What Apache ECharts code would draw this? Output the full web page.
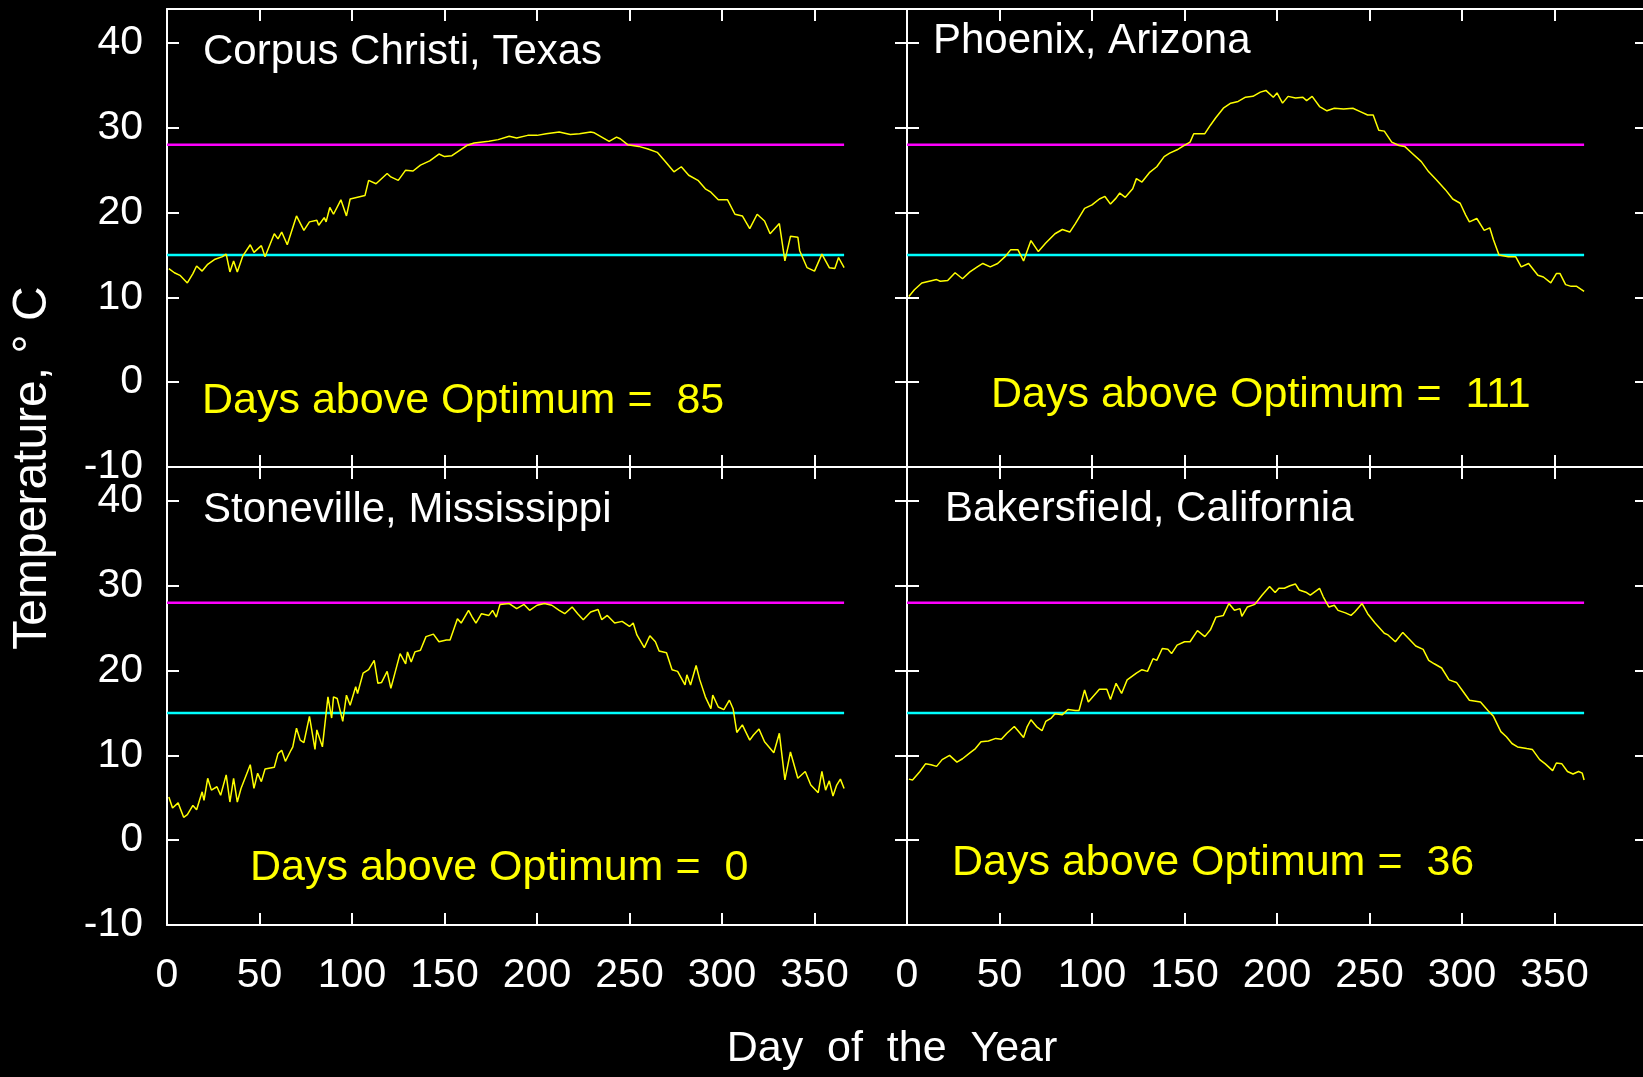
<!DOCTYPE html>
<html>
<head>
<meta charset="utf-8">
<script src="https://cdn.jsdelivr.net/npm/echarts@6/dist/echarts.min.js"></script>
<style>
html,body{margin:0;padding:0;background:#000;overflow:hidden;}
#c{width:1660px;height:1077px;}
</style>
</head>
<body>
<div id="c"></div>
<script>
// ---------- data ----------
const stationNames = ['Corpus Christi, Texas', 'Phoenix, Arizona', 'Stoneville, Mississippi', 'Bakersfield, California'];
const daysAboveOptimum = [85, 111, 0, 36];
const optimumTemp = 28;
const baseTemp = 15;
const refLineDays = [0, 366];
const xTickLabels = [0, 50, 100, 150, 200, 250, 300, 350];
const yTickLabels = [-10, 0, 10, 20, 30, 40];

const ccDays = [1,2,4,7,11,14,16,19,22,26,30,32,34,36,38,41,45,47,51,53,58,60,62,65,70,74,77,81,82,85,86,88,90,94,97,99,103,107,109,113,119,121,125,129,133,137,142,147,150,154,158,162,166,174,179,185,189,195,200,205,212,218,223,229,231,235,239,243,245,249,255,260,265,269,274,278,282,287,291,294,298,303,307,311,315,319,323,326,331,334,337,341,342,346,350,354,358,361,363,366];
const ccTemps = [13.4,13.5,12.9,12.6,11.7,12.8,13.7,13.1,13.9,14.5,14.8,15.1,13.0,14.3,13.0,14.9,16.2,15.3,16.1,14.8,17.5,16.9,17.7,16.2,19.6,17.9,18.9,19.1,18.5,19.4,18.9,20.6,19.8,21.5,19.6,21.6,21.8,22.0,23.8,23.4,24.6,24.2,23.8,25.0,24.9,25.6,26.1,26.9,26.6,26.7,27.3,27.9,28.2,28.4,28.6,29.0,28.8,29.1,29.1,29.3,29.5,29.2,29.3,29.5,29.4,28.9,28.4,28.9,28.7,28.0,27.8,27.5,27.1,26.1,24.8,25.4,24.4,23.8,22.8,22.4,21.5,21.5,19.8,19.6,18.1,19.8,19.0,17.5,18.7,14.3,17.2,17.1,15.5,13.5,13.1,15.1,13.5,13.4,14.7,13.5];

const phDays = [1,4,8,12,16,18,22,26,30,34,38,41,45,49,53,56,60,63,67,71,75,80,84,88,91,96,100,104,107,110,113,115,118,122,124,127,131,135,139,142,146,149,153,155,161,164,167,171,175,179,183,187,191,194,198,200,203,206,210,214,216,219,223,227,231,236,241,245,249,252,255,258,262,266,269,273,278,282,286,291,295,299,302,304,308,312,315,317,320,325,329,332,336,341,344,348,351,353,356,359,362,366];
const phTemps = [10.1,10.9,11.7,11.9,12.1,11.9,12.0,12.9,12.2,13.0,13.6,14.0,13.6,14.0,14.8,15.6,15.6,14.3,16.7,15.4,16.4,17.5,18.0,17.7,18.7,20.5,20.9,21.6,21.9,21.0,21.7,22.3,21.8,22.8,24.0,23.6,24.7,25.4,26.6,27.0,27.4,27.8,28.3,29.3,29.3,30.3,31.2,32.3,32.9,33.1,33.6,33.7,34.2,34.4,33.6,34.1,32.9,33.7,33.5,33.6,33.2,33.7,32.5,32.0,32.3,32.2,32.3,31.9,31.5,31.5,29.7,29.6,28.3,27.9,27.8,27.0,26.0,24.8,23.9,22.7,21.6,21.1,19.7,18.9,19.3,17.9,18.2,16.8,15.0,14.8,14.8,13.6,14.0,12.6,12.4,11.7,12.8,12.8,11.5,11.3,11.3,10.7];

const stDays = [1,3,6,7,9,11,14,16,19,20,22,24,27,29,32,34,36,38,40,45,47,49,51,53,58,60,62,64,67,68,70,72,74,77,80,81,84,87,89,90,92,95,97,99,102,103,106,109,112,114,116,119,121,126,129,130,132,134,137,140,144,147,151,153,157,159,163,165,167,170,174,176,178,180,185,189,193,196,200,204,208,212,215,219,222,225,229,233,235,238,242,246,250,252,254,258,261,264,266,270,273,276,280,281,283,286,288,291,294,295,298,301,304,306,308,311,315,317,320,323,328,331,334,337,341,345,348,352,354,356,358,360,362,364,366];
const stTemps = [5.1,3.8,4.4,4.3,2.7,3.0,4.1,3.6,5.7,4.7,7.3,5.9,6.3,5.3,7.7,4.5,7.3,4.5,6.1,8.9,6.1,7.9,6.9,8.4,8.6,10.2,10.6,9.3,10.6,11.0,13.2,11.8,11.5,14.6,10.7,13.0,11.0,16.9,14.4,16.9,16.7,14.0,17.1,15.9,18.1,17.3,19.7,20.1,21.2,18.5,18.6,19.9,17.9,22.0,20.8,22.2,21.0,22.2,22.4,24.0,24.3,23.4,23.6,23.6,26.1,25.6,27.1,26.3,25.6,26.7,26.5,27.1,26.3,27.8,27.9,27.3,27.8,27.1,27.7,27.9,27.7,27.1,26.7,27.5,26.7,26.0,26.9,27.2,26.0,26.5,25.6,25.8,25.2,25.6,24.2,22.7,24.1,23.4,22.3,22.1,20.1,19.9,18.3,19.5,18.3,20.6,18.9,16.9,15.5,17.1,15.7,15.4,16.5,15.5,12.7,13.6,11.8,12.4,13.1,11.6,10.3,12.6,7.1,10.4,7.3,8.1,6.5,5.6,8.1,5.9,7.0,5.2,6.5,7.2,6.1];

const bkDays = [1,3,7,10,13,16,19,23,27,30,34,37,40,44,48,51,54,58,60,63,65,67,70,73,75,78,80,84,87,91,93,96,98,102,104,108,110,113,116,119,124,127,130,133,135,138,141,143,146,150,153,157,161,164,167,171,174,177,180,181,184,188,192,196,199,201,204,207,210,212,216,218,223,225,228,231,233,237,240,242,246,249,253,258,260,264,268,271,275,279,282,285,289,293,297,300,304,310,314,317,321,324,327,330,335,338,342,345,349,351,354,357,360,363,365,366];
const bkTemps = [7.2,7.1,8.1,9.0,8.9,8.7,9.5,10.0,9.2,9.6,10.3,10.8,11.6,11.7,12.0,11.9,12.6,13.4,12.9,12.1,13.4,14.2,13.4,12.9,14.0,14.4,14.9,14.8,15.4,15.3,15.3,17.7,16.3,17.3,17.8,17.8,16.6,18.5,17.3,18.9,19.7,20.1,19.9,21.4,21.2,22.6,22.5,22.0,23.0,23.4,23.4,24.7,24.0,24.8,26.3,26.5,27.9,27.1,27.3,26.4,27.5,27.8,28.9,29.9,29.2,29.7,29.7,30.0,30.2,29.5,29.2,28.9,29.7,28.7,27.5,27.7,27.1,26.8,26.5,26.9,27.9,26.7,25.6,24.4,24.2,23.4,24.5,23.8,22.9,22.5,21.2,20.8,20.3,18.9,18.6,17.7,16.5,16.3,15.3,14.6,12.8,12.2,11.4,11.0,10.8,10.7,9.5,9.0,8.2,9.1,9.0,8.1,7.8,8.1,7.9,7.1];

// ---------- chart ----------
const FONT = '"Liberation Sans", Arial, Helvetica, sans-serif';
const stations = [
  {days: ccDays, temps: ccTemps},
  {days: phDays, temps: phTemps},
  {days: stDays, temps: stTemps},
  {days: bkDays, temps: bkTemps}
];
const gridBoxes = [
  {left: 167, top: 9, width: 740, height: 458},
  {left: 907, top: 9, width: 740, height: 458},
  {left: 167, top: 467, width: 740, height: 458},
  {left: 907, top: 467, width: 740, height: 458}
];
const titlePos = [[203, 52], [933, 41], [203, 510], [945, 509]];
const daysPos = [[202, 401], [991, 395], [250, 868], [952, 863]];

const lineW = {color: '#ffffff', width: 2};
const xAxes = [], yAxes = [], series = [], graphic = [];

gridBoxes.forEach((g, i) => {
  const bottomRow = i >= 2, leftCol = (i % 2) === 0;
  ['bottom', 'top'].forEach(pos => {
    xAxes.push({
      type: 'value', gridIndex: i, position: pos, min: 0, max: 400, interval: 50,
      axisLine: {show: true, onZero: false, lineStyle: lineW},
      axisTick: {show: true, inside: true, length: 12, lineStyle: lineW},
      splitLine: {show: false},
      axisLabel: {
        show: bottomRow && pos === 'bottom', color: '#ffffff', fontSize: 41, fontFamily: FONT, margin: 30,
        formatter: v => xTickLabels.includes(v) ? String(v) : ''
      }
    });
  });
  ['left', 'right'].forEach(pos => {
    yAxes.push({
      type: 'value', gridIndex: i, position: pos, min: -10, max: 44, interval: 10,
      axisLine: {show: true, onZero: false, lineStyle: lineW},
      axisTick: {show: true, inside: true, length: 12, lineStyle: lineW},
      splitLine: {show: false},
      axisLabel: {
        show: leftCol && pos === 'left', color: '#ffffff', fontSize: 41, fontFamily: FONT, margin: 24,
        formatter: v => yTickLabels.includes(v) ? String(v) : ''
      }
    });
  });
  const st = stations[i];
  series.push({
    type: 'line', xAxisIndex: 2 * i, yAxisIndex: 2 * i, symbol: 'none', silent: true,
    data: refLineDays.map(d => [d, optimumTemp]),
    lineStyle: {color: '#ff00ff', width: 2.5}, z: 3
  });
  series.push({
    type: 'line', xAxisIndex: 2 * i, yAxisIndex: 2 * i, symbol: 'none', silent: true,
    data: refLineDays.map(d => [d, baseTemp]),
    lineStyle: {color: '#00ffff', width: 2.5}, z: 3
  });
  series.push({
    type: 'line', xAxisIndex: 2 * i, yAxisIndex: 2 * i, symbol: 'none', silent: true,
    data: st.days.map((d, k) => [d, st.temps[k]]),
    lineStyle: {color: '#ffff00', width: 1.5}, z: 4
  });
  graphic.push({
    type: 'text', x: titlePos[i][0], y: titlePos[i][1],
    style: {text: stationNames[i], fill: '#ffffff', font: '42px ' + FONT, textAlign: 'left', textVerticalAlign: 'middle'}
  });
  graphic.push({
    type: 'text', x: daysPos[i][0], y: daysPos[i][1],
    style: {text: 'Days above Optimum =  ' + daysAboveOptimum[i], fill: '#ffff00', font: '43px ' + FONT, textAlign: 'left', textVerticalAlign: 'middle'}
  });
});

graphic.push({
  type: 'text', x: 892, y: 1049,
  style: {text: 'Day  of  the  Year', fill: '#ffffff', font: '43px ' + FONT, textAlign: 'center', textVerticalAlign: 'middle'}
});
graphic.push({
  type: 'text', x: 33, y: 468, rotation: Math.PI / 2,
  style: {text: 'Temperature, \u00B0 C', fill: '#ffffff', font: '48px ' + FONT, textAlign: 'center', textVerticalAlign: 'middle'}
});

const chart = echarts.init(document.getElementById('c'), null, {renderer: 'canvas'});
chart.setOption({
  backgroundColor: '#000000',
  animation: false,
  grid: gridBoxes,
  xAxis: xAxes,
  yAxis: yAxes,
  series: series,
  graphic: graphic
});
</script>
</body>
</html>
